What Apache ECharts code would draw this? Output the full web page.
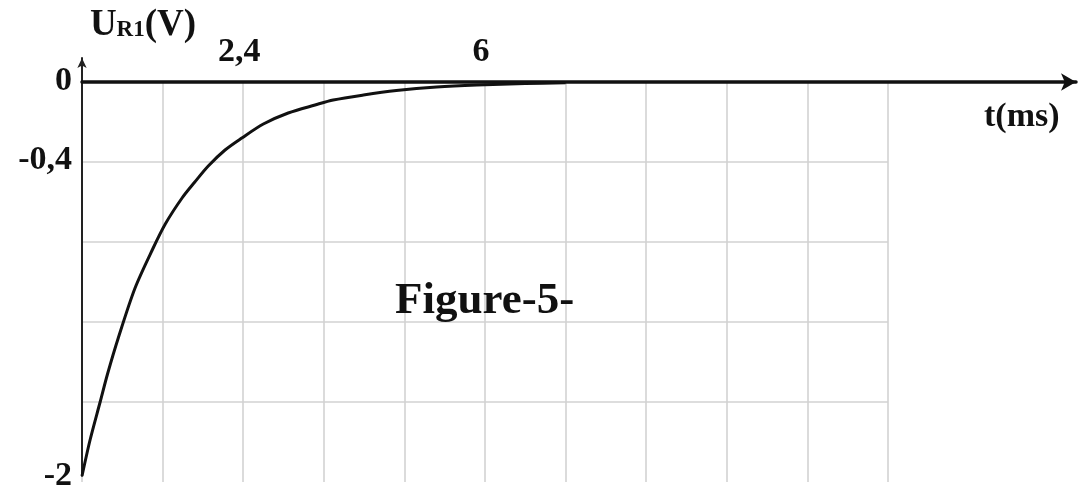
<!DOCTYPE html>
<html lang="en">
<head>
    <meta charset="UTF-8">
    <title>Figure-5-</title>
    <script src="https://cdn.jsdelivr.net/npm/echarts@6/dist/echarts.min.js"></script>
    <style>
        html, body { margin: 0; padding: 0; background: #fff; }
        #chartmain { width: 1088px; height: 493px; }
    </style>
</head>
<body>
<div id="chartmain"></div>
<script>
    // values: t in ms, U_R1 in V
    var tMs = [0, 0.12, 0.27, 0.38, 0.54, 0.79, 1.06, 1.24, 1.49, 1.68, 1.88, 2.13, 2.38,
        2.70, 3.07, 3.47, 3.74, 4.19, 4.68, 5.28, 5.88, 6.6, 7.2];
    var uR1 = [-1.97, -1.79, -1.60, -1.46, -1.28, -1.03, -0.83, -0.71, -0.58, -0.50, -0.42, -0.34, -0.28,
        -0.21, -0.155, -0.115, -0.09, -0.065, -0.043, -0.025, -0.015, -0.008, -0.004];
    var xTickLabels = [2.4, 6];
    var yTickLabels = [0, -0.4, -2];

    var serif = 'Liberation Serif';
    function pick(list, v) {
        for (var i = 0; i < list.length; i++) {
            if (Math.abs(list[i] - v) < 1e-6) return String(list[i]).replace('.', ',');
        }
        return '';
    }

    var pts = tMs.map(function (t, i) { return [t, uR1[i]]; });
    var hidden = {
        axisLine: {show: false}, axisTick: {show: false},
        axisLabel: {show: false}, splitLine: {show: false}
    };

    var option = {
        animation: false,
        backgroundColor: '#fff',
        title: {
            text: 'Figure-5-',
            left: 390, top: 274,
            textStyle: { fontFamily: serif, fontWeight: 'bold', fontSize: 45, color: '#111' }
        },
        grid: [
            // graph paper: 0..12 ms, -2..0 V
            {left: 82, top: 82, width: 806, height: 400},
            // vertical axis with its arrow above 0
            {left: 82, top: 58, width: 994, height: 424},
            // time axis and the curve
            {left: 82, top: 82, width: 994, height: 400}
        ],
        xAxis: [
            {
                gridIndex: 0, type: 'value', min: 0, max: 12, interval: 1.2,
                axisLine: {show: false}, axisTick: {show: false}, axisLabel: {show: false},
                splitLine: {show: true, lineStyle: {color: '#d2d2d2', width: 1.6}}
            },
            Object.assign({gridIndex: 1, type: 'value', min: 0, max: 14.8}, hidden),
            {
                gridIndex: 2, type: 'value', min: 0, max: 14.8, interval: 1.2,
                position: 'top',
                axisLine: {
                    onZero: false, symbol: ['none', 'arrow'], symbolSize: [13, 15],
                    lineStyle: {color: '#111', width: 3.5}
                },
                axisTick: {show: false},
                splitLine: {show: false},
                axisLabel: {
                    margin: 13, showMaxLabel: false,
                    fontFamily: serif, fontWeight: 'bold', fontSize: 34, color: '#111',
                    padding: [0, 8, 0, 0],
                    formatter: function (v) { return pick(xTickLabels, v); }
                },
                name: 't(ms)', nameLocation: 'end', nameGap: -92,
                nameTextStyle: {
                    fontFamily: serif, fontWeight: 'bold', fontSize: 34, color: '#111',
                    verticalAlign: 'top', padding: [18, 0, 0, 0]
                }
            }
        ],
        yAxis: [
            {
                gridIndex: 0, type: 'value', min: -2, max: 0, interval: 0.4,
                axisLine: {show: false}, axisTick: {show: false}, axisLabel: {show: false},
                splitLine: {show: true, showMinLine: false, lineStyle: {color: '#d2d2d2', width: 1.6}}
            },
            {
                gridIndex: 1, type: 'value', min: -2, max: 0.12, interval: 0.4,
                axisLine: {
                    onZero: false, symbol: ['none', 'arrow'], symbolSize: [7, 10],
                    lineStyle: {color: '#222', width: 2}
                },
                axisTick: {show: false},
                splitLine: {show: false},
                axisLabel: {
                    margin: 10, showMaxLabel: false,
                    fontFamily: serif, fontWeight: 'bold', fontSize: 34, color: '#111',
                    formatter: function (v) { return pick(yTickLabels, v); }
                },
                name: 'U{s|R1}(V)', nameLocation: 'end', nameGap: 14,
                nameTextStyle: {
                    fontFamily: serif, fontWeight: 'bold', fontSize: 37, color: '#111',
                    padding: [0, 0, 0, 122],
                    rich: {
                        s: {fontFamily: serif, fontWeight: 'bold', fontSize: 23, color: '#111', padding: [10, 0, 0, 0]}
                    }
                }
            },
            Object.assign({gridIndex: 2, type: 'value', min: -2, max: 0}, hidden)
        ],
        series: [{
            name: 'UR1',
            type: 'line',
            xAxisIndex: 2, yAxisIndex: 2,
            data: pts,
            smooth: 0.3,
            showSymbol: false,
            lineStyle: {color: '#111', width: 3},
            z: 5
        }]
    };

    var myChart = echarts.init(document.getElementById('chartmain'));
    myChart.setOption(option);
</script>
</body>
</html>
